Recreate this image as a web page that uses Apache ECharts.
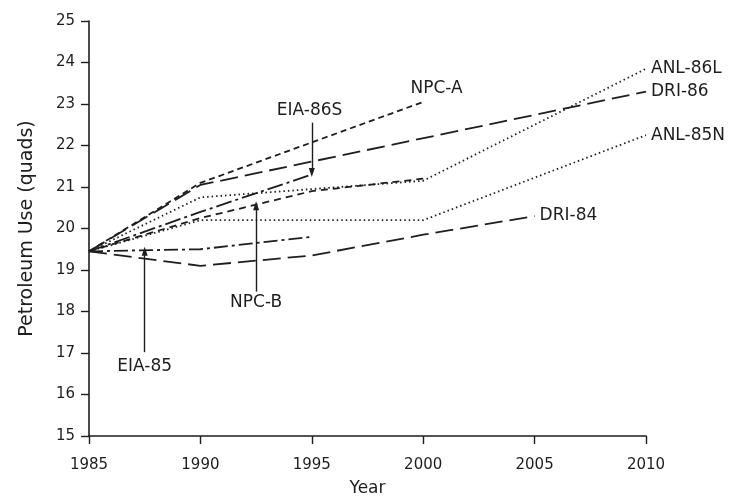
<!DOCTYPE html>
<html><head><meta charset="utf-8">
<script src="https://cdn.jsdelivr.net/npm/echarts@6/dist/echarts.min.js"></script>
<style>html,body{margin:0;padding:0;background:#fff}#c{width:738px;height:502px}</style>
</head><body><div id="c"></div>
<script>
// ---- data ----
const seriesNames = ['NPC-A','DRI-86','EIA-86S','NPC-B','ANL-86L','ANL-85N','EIA-85','DRI-84'];
const yearsNPCA = [1985,1990,2000];             const valsNPCA = [19.45,21.1,23.05];
const yearsDRI86 = [1985,1990,2010];            const valsDRI86 = [19.45,21.05,23.3];
const yearsEIA86S = [1985,1990,1995];           const valsEIA86S = [19.45,20.4,21.3];
const yearsNPCB = [1985,1990,1995,2000];        const valsNPCB = [19.45,20.25,20.9,21.2];
const yearsANL86L = [1985,1990,2000,2010];      const valsANL86L = [19.45,20.75,21.15,23.85];
const yearsANL85N = [1985,1990,2000,2010];      const valsANL85N = [19.45,20.2,20.2,22.25];
const yearsEIA85 = [1985,1990,1995];            const valsEIA85 = [19.45,19.5,19.8];
const yearsDRI84 = [1985,1990,1995,2000,2005];  const valsDRI84 = [19.45,19.1,19.35,19.85,20.3];
const xTicks = [1985,1990,1995,2000,2005,2010];
const yTicks = [15,16,17,18,19,20,21,22,23,24,25];
// annotation anchor points (data units)
const labelNPCA = [2000.6, 23.37];
const labelEIA86S = [1994.9, 22.85];
const arrowEIA86S = [[1995, 22.55],[1995, 21.35]];
const labelNPCB = [1992.5, 18.22];
const arrowNPCB = [[1992.5, 18.48],[1992.5, 20.55]];
const labelEIA85 = [1987.5, 16.68];
const arrowEIA85 = [[1987.5, 17.02],[1987.5, 19.45]];

const FONT = 'DejaVu Sans';
const INK = '#1e1e1e';
const zip = (xs, ys) => xs.map((x,i)=>[x, ys[i]]);

function line(name, xs, ys, dash, extra) {
  return Object.assign({
    name, type:'line', data: zip(xs, ys), symbol:'none', silent:true,
    lineStyle:{color:INK, width:1.8, type:dash, cap:'butt'},
  }, extra || {});
}
const endLbl = (txt) => ({ endLabel:{show:true, formatter:txt, color:INK, fontFamily:FONT, fontSize:17, distance:5} });
const txtPoint = (txt, c) => ({ markPoint:{ symbol:'circle', symbolSize:0, silent:true,
  data:[{coord:c, label:{show:true, position:'inside', formatter:txt, color:INK, fontFamily:FONT, fontSize:17}}]}});
const arrow = (pts) => ({ markLine:{ silent:true, symbol:['none','triangle'], symbolSize:[6,9],
  lineStyle:{color:INK, width:1.4, type:'solid'}, label:{show:false},
  data:[[{coord:pts[0]},{coord:pts[1]}]] }});
function merge(...objs){ const o={}; objs.forEach(a=>{Object.assign(o,a)}); return o; }

const chart = echarts.init(document.getElementById('c'));
chart.setOption({
  animation:false,
  backgroundColor:'#fff',
  grid:{left:89, right:92, top:21, bottom:53},
  xAxis:{type:'value', min:1985, max:2010, interval:5,
    name:'Year', nameLocation:'middle', nameGap:44,
    nameTextStyle:{fontFamily:FONT, fontSize:17, color:INK},
    axisLine:{lineStyle:{color:INK, width:1.6}},
    axisTick:{show:true, inside:false, length:8, lineStyle:{color:INK, width:1.4}},
    axisLabel:{margin:22, fontFamily:FONT, fontSize:15, color:INK,
      formatter:v=>xTicks.includes(v)?String(v):''},
    splitLine:{show:false}},
  yAxis:{type:'value', min:15, max:25, interval:1,
    name:'Petroleum Use (quads)', nameLocation:'middle', nameGap:52, nameRotate:90,
    nameTextStyle:{fontFamily:FONT, fontSize:19, color:INK},
    axisLine:{show:true, lineStyle:{color:INK, width:1.6}},
    axisTick:{show:true, inside:false, length:8, lineStyle:{color:INK, width:1.4}},
    axisLabel:{margin:14, fontFamily:FONT, fontSize:15, color:INK,
      formatter:v=>yTicks.includes(v)?String(v):''},
    splitLine:{show:false}},
  series:[
    line(seriesNames[0], yearsNPCA, valsNPCA, [6,4], txtPoint('NPC-A', labelNPCA)),
    line(seriesNames[1], yearsDRI86, valsDRI86, [18,7], endLbl('DRI-86')),
    line(seriesNames[2], yearsEIA86S, valsEIA86S, [16,4,3,4], merge(txtPoint('EIA-86S', labelEIA86S), arrow(arrowEIA86S))),
    line(seriesNames[3], yearsNPCB, valsNPCB, [7,5], merge(txtPoint('NPC-B', labelNPCB), arrow(arrowNPCB))),
    line(seriesNames[4], yearsANL86L, valsANL86L, [1.5,3], endLbl('ANL-86L')),
    line(seriesNames[5], yearsANL85N, valsANL85N, [1.5,3], endLbl('ANL-85N')),
    line(seriesNames[6], yearsEIA85, valsEIA85, [14,4,3,4], merge(txtPoint('EIA-85', labelEIA85), arrow(arrowEIA85))),
    line(seriesNames[7], yearsDRI84, valsDRI84, [18,7], endLbl('DRI-84')),
  ]
});
</script></body></html>
